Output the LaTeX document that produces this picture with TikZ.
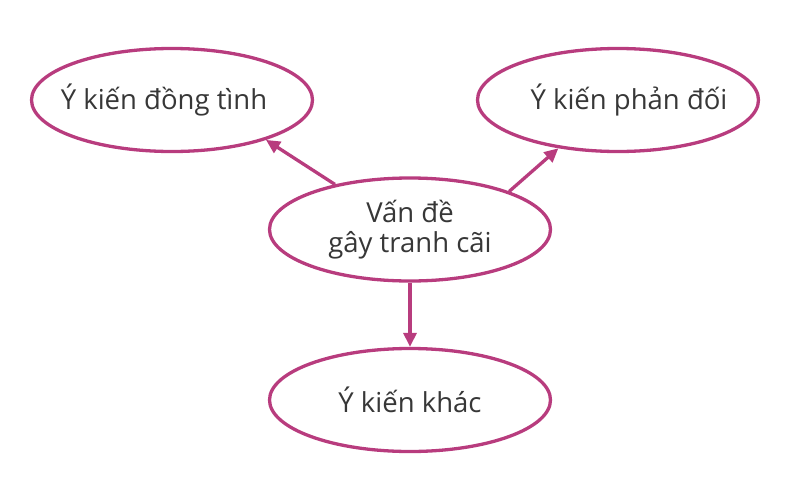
\documentclass[tikz,border=0pt]{standalone}
\usepackage{fontspec}
\setmainfont{Open Sans}
\usetikzlibrary{arrows.meta,shapes.geometric}
\definecolor{mag}{RGB}{184,60,126}
\definecolor{txt}{RGB}{55,55,55}
\tikzset{
  bubble/.style={ellipse, draw=mag, line width=3.3pt, minimum width=281pt, minimum height=103pt, inner sep=0pt, text=txt, font=\fontsize{27.5}{30}\selectfont, align=center},
  link/.style={draw=mag, line width=3.3pt, -{Triangle[length=14pt,width=13pt]}}
}
\begin{document}
\begin{tikzpicture}[x=1pt,y=-1pt]
\useasboundingbox (0,0) rectangle (788,485);
\node[bubble] (c) at (410,229.5) {Vấn đề\\gây tranh cãi};
\node[bubble] (tl) at (172,100) {\makebox[0pt]{\hspace*{-16pt}Ý kiến đồng tình}};
\node[bubble] (tr) at (618,100) {\makebox[0pt]{\hspace*{22pt}Ý kiến phản đối}};
\node[bubble] (b) at (410,400) {Ý kiến khác};
\draw[link] (c.149) -- (tl.-23);
\draw[link] (c.21) -- (tr.-141);
\draw[link] (c.south) -- (b.north);
\end{tikzpicture}
\end{document}
